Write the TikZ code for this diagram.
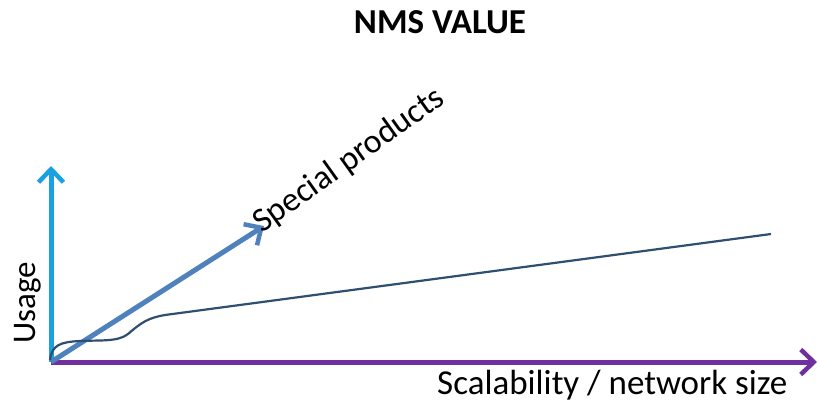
\documentclass[tikz,border=0pt]{standalone}
\usepackage{fontspec}
\setmainfont{Carlito}
\usetikzlibrary{arrows.meta}
\definecolor{axisblue}{HTML}{1BA1E2}
\definecolor{axispurple}{HTML}{7030A0}
\definecolor{specblue}{HTML}{4F81BD}
\definecolor{curveblue}{HTML}{2E4E72}
\tikzset{
  axis/.style={line width=5pt,-{Straight Barb[length=13pt,width=25pt,line width=4.5pt]}},
  lbl/.style={inner sep=0pt},
}
\begin{document}
\begin{tikzpicture}[x=1pt,y=-1pt]
\useasboundingbox (0,0) rectangle (819,402);
\coordinate (O) at (51,362);
\coordinate (ytip) at (51,166);
\coordinate (xtip) at (817,362);
\coordinate (stip) at (264,226);
\coordinate (cend) at (771,234);
\draw[axis,axisblue] (O) -- (ytip);
\draw[axis,axispurple] (O) -- (xtip);
\draw[axis,specblue] (O) -- (stip);
\draw[curveblue,line width=2.2pt] (50,360) .. controls (52,345) and (60,342) .. (80,341)
  .. controls (100,340) and (118,342) .. (128,334)
  .. controls (142,322) and (148,318) .. (165,315) -- (cend);
\node[lbl,font=\fontsize{35}{37}\selectfont\bfseries,anchor=base] (title) at (440,33) {NMS VALUE};
\node[lbl,font=\fontsize{33}{35}\selectfont,rotate=90,anchor=base] (usage) at (35,303) {Usage};
\node[lbl,font=\fontsize{35}{37}\selectfont,anchor=base west] (xlabel) at (437,394) {Scalability / network size};
\node[lbl,font=\fontsize{34}{36}\selectfont,rotate=35.5,anchor=base west] (slabel) at (262,234) {Special products};
\end{tikzpicture}
\end{document}
